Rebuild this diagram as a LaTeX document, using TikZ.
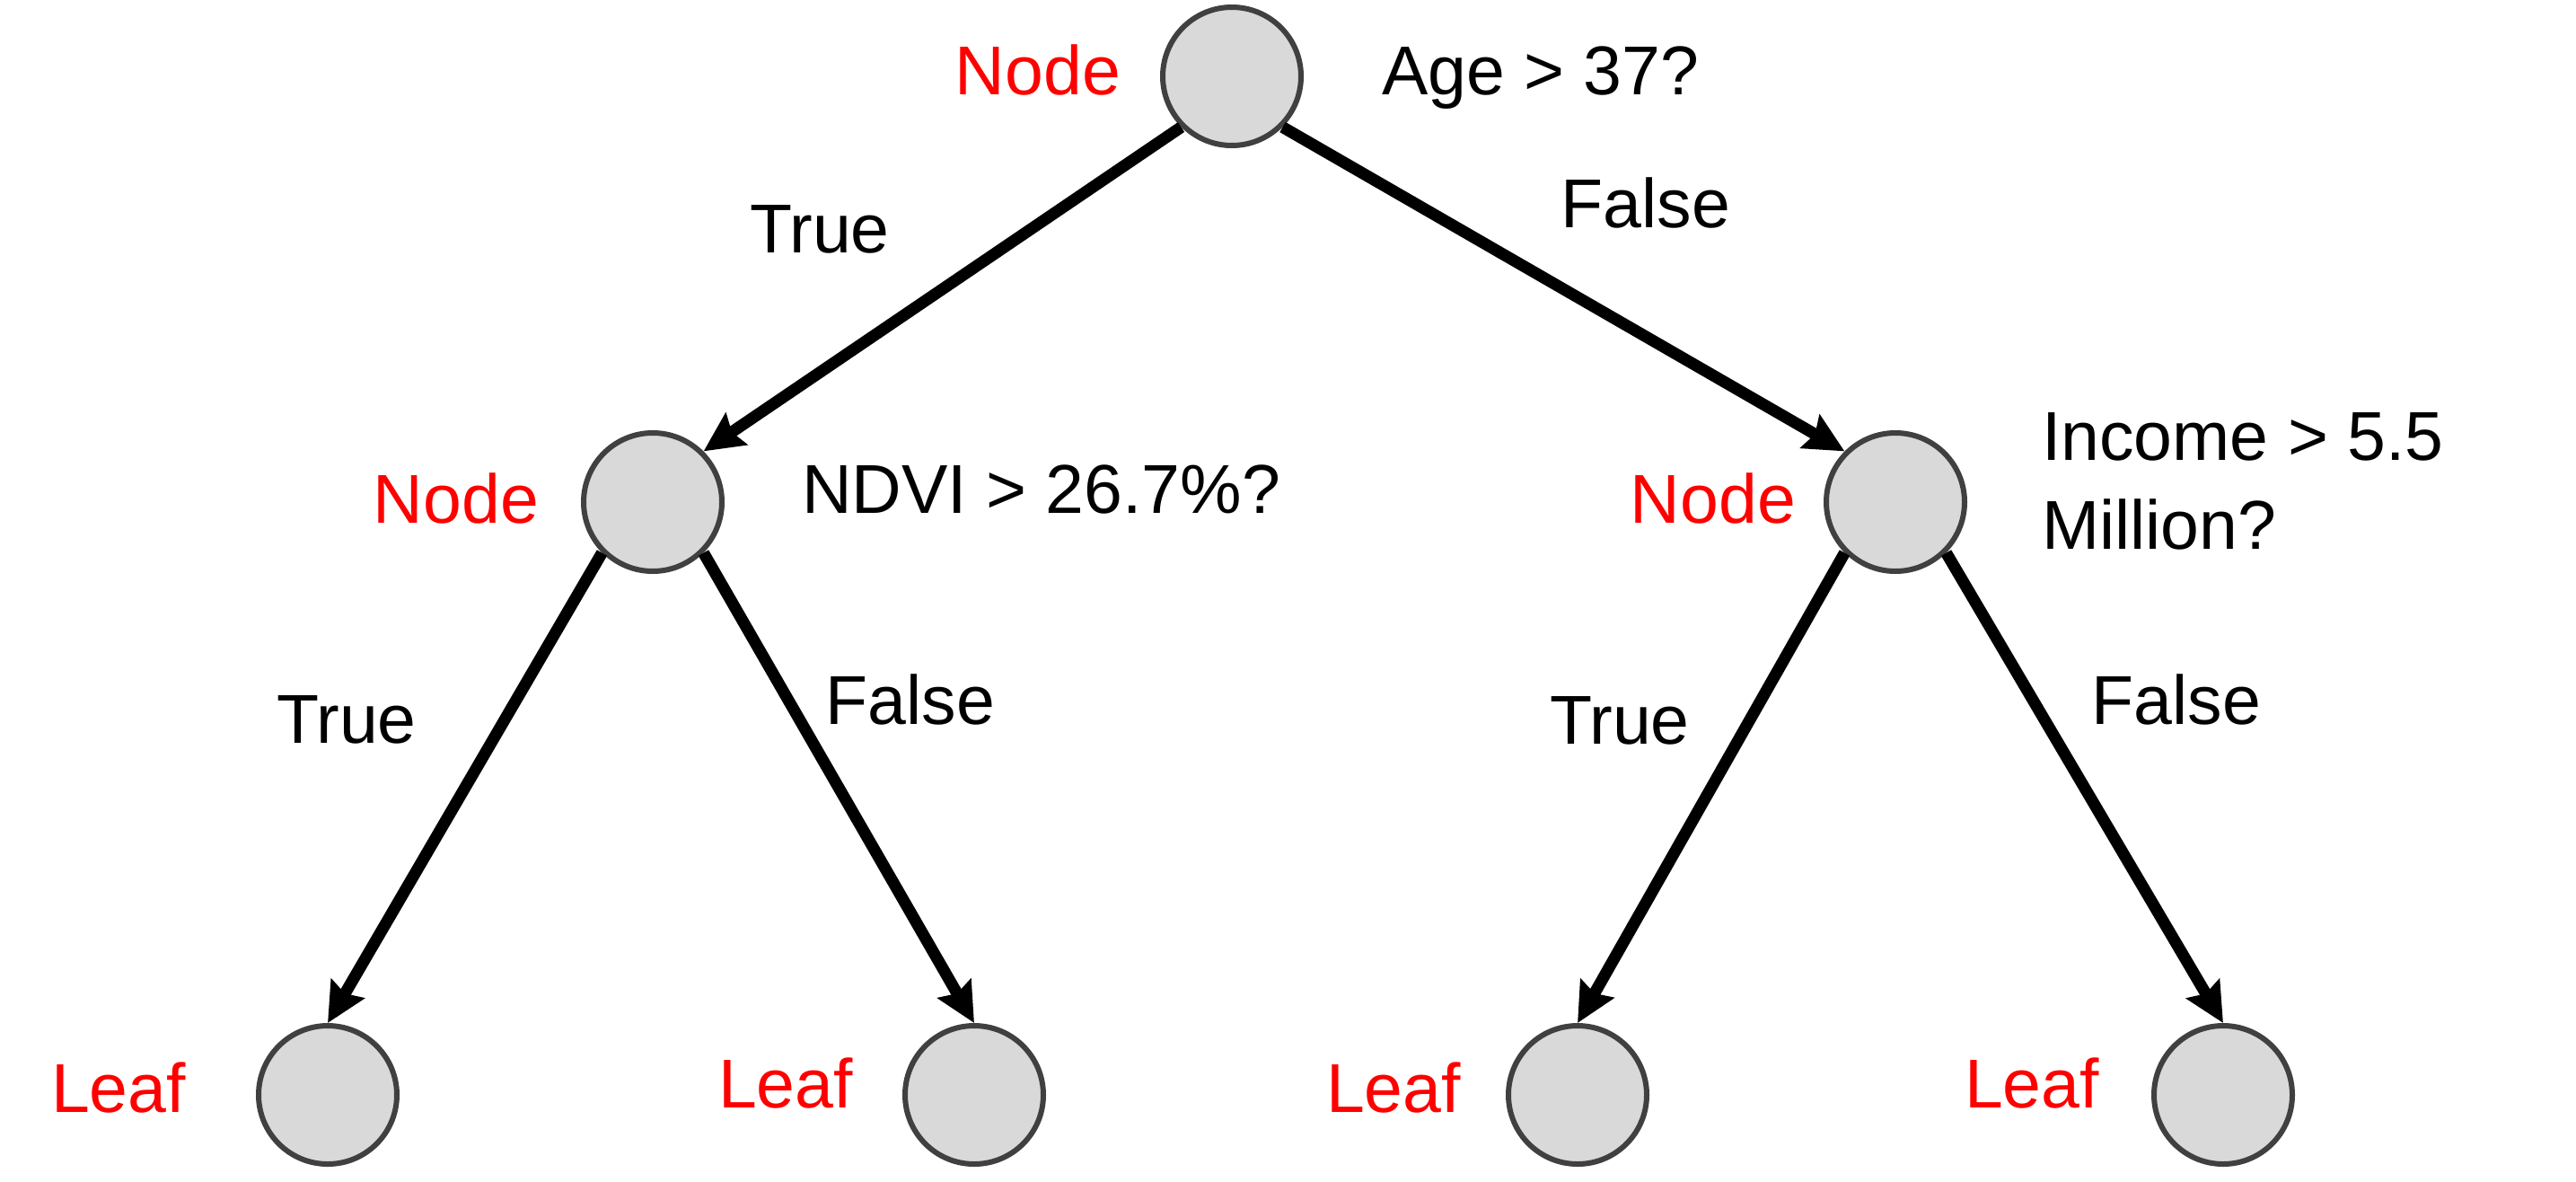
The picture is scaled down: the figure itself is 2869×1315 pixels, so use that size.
\documentclass[tikz,border=0pt]{standalone}
\usepackage{fontspec}
\setmainfont{Liberation Sans}
\usetikzlibrary{arrows.meta}
\definecolor{nodefill}{HTML}{D9D9D9}
\definecolor{nodeline}{HTML}{404040}
\definecolor{lblred}{HTML}{FF0000}
\tikzset{
  treenode/.style={circle, draw=nodeline, fill=nodefill, line width=6pt, minimum size=154pt, inner sep=0pt},
  txt/.style={inner sep=0pt, font=\fontsize{77}{99}\selectfont, text=black},
  redtxt/.style={txt, text=lblred},
  edge/.style={line width=13pt, draw=black, -{Stealth[length=44pt,width=42pt,inset=6pt]}},
}
\begin{document}
\begin{tikzpicture}[x=1pt,y=-1pt]
\useasboundingbox (0,0) rectangle (2869,1315);
% nodes
\node[treenode] (root) at (1372,85) {};
\node[treenode] (ml) at (727,559) {};
\node[treenode] (mr) at (2111,559) {};
\node[treenode] (l1) at (365,1219) {};
\node[treenode] (l2) at (1085,1219) {};
\node[treenode] (l3) at (1757,1219) {};
\node[treenode] (l4) at (2476,1219) {};
% red labels
\node[redtxt, anchor=base] (nroot) at (1156,105) {Node};
\node[redtxt, anchor=base] (nml) at (508,582) {Node};
\node[redtxt, anchor=base] (nmr) at (1908,582) {Node};
\node[redtxt, anchor=base] (tl1) at (132,1238) {Leaf};
\node[redtxt, anchor=base] (tl2) at (875,1233) {Leaf};
\node[redtxt, anchor=base] (tl3) at (1552,1238) {Leaf};
\node[redtxt, anchor=base] (tl4) at (2263,1233) {Leaf};
% questions
\node[txt, anchor=base west] (q1) at (1539,105) {Age > 37?};
\node[txt, anchor=base west] (q2) at (893,571) {NDVI > 26.7\%?};
\node[txt, anchor=base west] (q3a) at (2274,512) {Income > 5.5};
\node[txt, anchor=base west] (q3b) at (2274,611) {Million?};
% edge labels
\node[txt, anchor=base] (e1) at (913,281) {True};
\node[txt, anchor=base] (e2) at (1833,253) {False};
\node[txt, anchor=base] (e3) at (386,827) {True};
\node[txt, anchor=base] (e4) at (1014,806) {False};
\node[txt, anchor=base] (e5) at (1804,828) {True};
\node[txt, anchor=base] (e6) at (2424,806) {False};
% edges
\draw[edge] (root.-135) -- (ml.45);
\draw[edge] (root.-45) -- (mr.135);
\draw[edge] (ml.-135) -- (l1.north);
\draw[edge] (ml.-45) -- (l2.north);
\draw[edge] (mr.-135) -- (l3.north);
\draw[edge] (mr.-45) -- (l4.north);
\end{tikzpicture}
\end{document}
